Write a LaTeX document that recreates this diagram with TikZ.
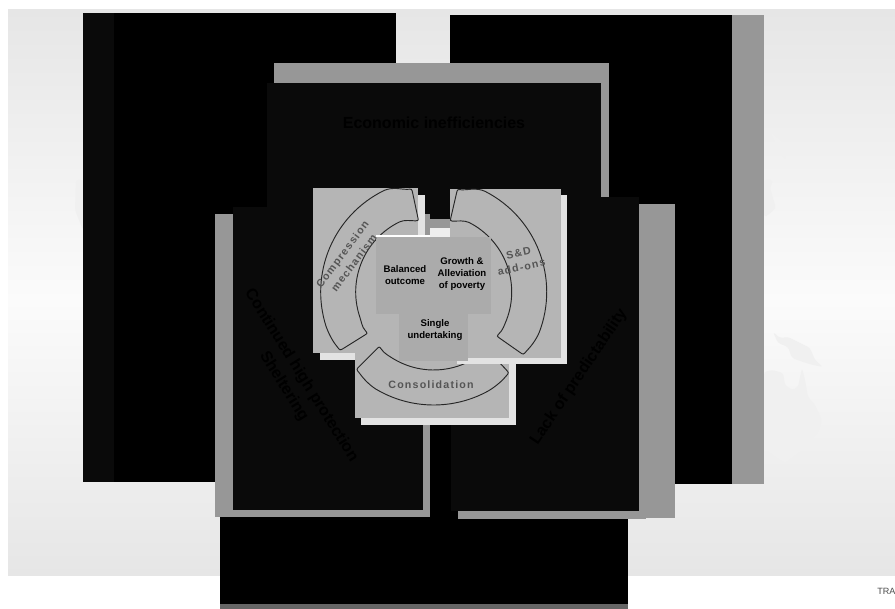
\documentclass[tikz,border=0pt]{standalone}
\usepackage{fontspec}
\setmainfont{Liberation Sans}
\newfontfamily\ringfont[LetterSpace=11]{Liberation Sans}
\usetikzlibrary{positioning}
\definecolor{ink}{HTML}{000000}
\definecolor{panel}{HTML}{0A0A0A}
\definecolor{shade}{HTML}{979797}
\definecolor{ringfill}{HTML}{B5B5B5}
\definecolor{ringshade}{HTML}{E3E3E3}
\definecolor{core}{HTML}{ABABAB}
\definecolor{ringtext}{HTML}{555555}
\definecolor{bgedge}{HTML}{E6E6E6}
\definecolor{bgmid}{HTML}{FBFBFB}
\definecolor{foot}{HTML}{666666}
\definecolor{land}{HTML}{F0F0F0}
\tikzset{
  every node/.style={font=\bfseries},
  blackbox/.style={fill=ink},
  panelbox/.style={fill=panel},
  shadebox/.style={fill=shade},
  ringbox/.style={fill=ringfill},
  ringshadebox/.style={fill=ringshade},
  corebox/.style={fill=core},
  landmass/.style={fill=land, rounded corners=2pt},
  ringline/.style={draw=black!85, line width=0.7pt},
  paneltitle/.style={font=\bfseries\fontsize{12}{15.4}\selectfont, text=ink, align=center},
  ringlabel/.style={font=\ringfont\bfseries\fontsize{8}{10.8}\selectfont, text=ringtext, align=center},
  corelabel/.style={font=\bfseries\fontsize{7.2}{9}\selectfont, text=ink, align=center},
}
% one segment of the ring: start angle, end angle, inner radius at start and at end
\newcommand{\ringseg}[4]{%
  \draw[ringline] (#1+14:113) arc (#1+14:#2-14:113)
    .. controls (#2-9:113) and (#2-5:#4+34) .. (#2-2.5:#4+33)
    .. controls (#2:#4+32.5) .. (#2:#4+28) -- (#2:#4+4)
    .. controls (#2:#4) .. (#2-2.5:#4+.5) .. controls (#2-6:#4+2) and (#2-10:78) .. (#2-14:78)
    arc (#2-14:#1+14:78)
    .. controls (#1+10:78) and (#1+6:#3+2) .. (#1+2.5:#3+.5) .. controls (#1:#3) .. (#1:#3+4)
    -- (#1:#3+28) .. controls (#1:#3+32.5) .. (#1+2.5:#3+33)
    .. controls (#1+5:#3+34) and (#1+9:113) .. (#1+14:113) -- cycle;}
\begin{document}
\begin{tikzpicture}[x=0.75pt,y=-0.75pt]
\useasboundingbox (0,0) rectangle (895,609);
\fill[white] (0,0) rectangle (895,609);
% background
\fill[top color=bgedge,bottom color=bgmid] (8,10) rectangle (895,300);
\fill[top color=bgmid,bottom color=bgedge] (8,300) rectangle (895,575);
\fill[landmass] (76,180) -- (83,180) -- (83,230) -- (75,210) -- cycle;
\fill[landmass] (764,180) -- (773,180) -- (770,188) -- (776,208) -- (768,215) -- (764,217) -- cycle;
\fill[landmass] (770,132) -- (780,140) -- (787,150) -- (785,160) -- (778,147) -- cycle;
\fill[landmass] (764,372) -- (772,370) -- (783,373) -- (785,385) -- (792,390) -- (798,387) -- (802,368) -- (805,380) -- (808,397) -- (815,405) -- (822,420) -- (818,432) -- (805,448) -- (785,463) -- (770,453) -- (764,447) -- cycle;
\fill[landmass] (773,332) -- (780,338) -- (788,337) -- (810,348) -- (815,360) -- (823,367) -- (813,365) -- (803,362) -- (792,358) -- (788,347) -- (778,343) -- cycle;
% back blocks
\fill[blackbox] (83,13) rectangle (396,482);
\fill[panelbox] (83,13) rectangle (114,482);
\fill[shadebox] (732,15) rectangle (764,484);
\fill[blackbox] (450,15) rectangle (732,484);
\fill[blackbox] (220,400) rectangle (628,604);
\fill[foot] (220,604) rectangle (628,609);
% top panel
\fill[shadebox] (274,63) rectangle (609,228);
\fill[panelbox] (267,83) rectangle (601,219);
\node[paneltitle] (econ) at (434,123) {Economic inefficiencies};
% left panel
\fill[shadebox] (215,214) rectangle (430,517);
\fill[panelbox] (233,207) rectangle (423,510);
\node[paneltitle, rotate=-58] (prot) at (292.5,381) {Continued high protection\\Sheltering};
% right panel
\fill[shadebox] (458,518) rectangle (646,519);
\fill[shadebox] (458,204) rectangle (675,518);
\fill[panelbox] (451,197) rectangle (639,511);
\node[paneltitle, rotate=56] (pred) at (579,377) {Lack of predictability};
% ring boxes and segments
\fill[ringshadebox] (320,195) rectangle (425,360);
\fill[ringbox] (313,188) rectangle (418,353);
\begin{scope}[shift={(433.7,292)}]
\ringseg{148}{258}{78}{73}
\end{scope}
\fill[ringshadebox] (361,354) rectangle (516,425);
\fill[ringbox] (355,347) rectangle (509,418);
\begin{scope}[shift={(433.7,292)}]
\ringseg{47}{135}{78}{77}
\end{scope}
\fill[ringshadebox] (457,195) rectangle (567,364);
\fill[ringbox] (450,189) rectangle (561,358);
\begin{scope}[shift={(433.7,292)}]
\ringseg{283}{395}{73}{77}
\end{scope}
% core
\fill[white] (376,235) rectangle (430,237);
\fill[ringshade!60!white] (430,228) rectangle (450,237);
\fill[corebox] (376,237) rectangle (491,314);
\fill[corebox] (399,314) rectangle (468,361);
\node[corelabel] (bal) at (405,275) {Balanced\\outcome};
\node[corelabel] (grow) at (462,274) {Growth \&\\Alleviation\\of poverty};
\node[corelabel] (single) at (435,330.5) {Single\\undertaking};
% ring labels
\node[ringlabel, rotate=53] (comp) at (348,258.5) {Compression\\mechanism};
\node[ringlabel, rotate=12] (sd) at (520,260) {S\&D\\add-ons};
\node[ringlabel] (cons) at (431,385) {Consolidation};
\node[font=\mdseries\fontsize{6.8}{8}\selectfont, text=black!70, anchor=west, inner sep=0pt] (tra) at (877,591) {TRA};
\end{tikzpicture}
\end{document}
